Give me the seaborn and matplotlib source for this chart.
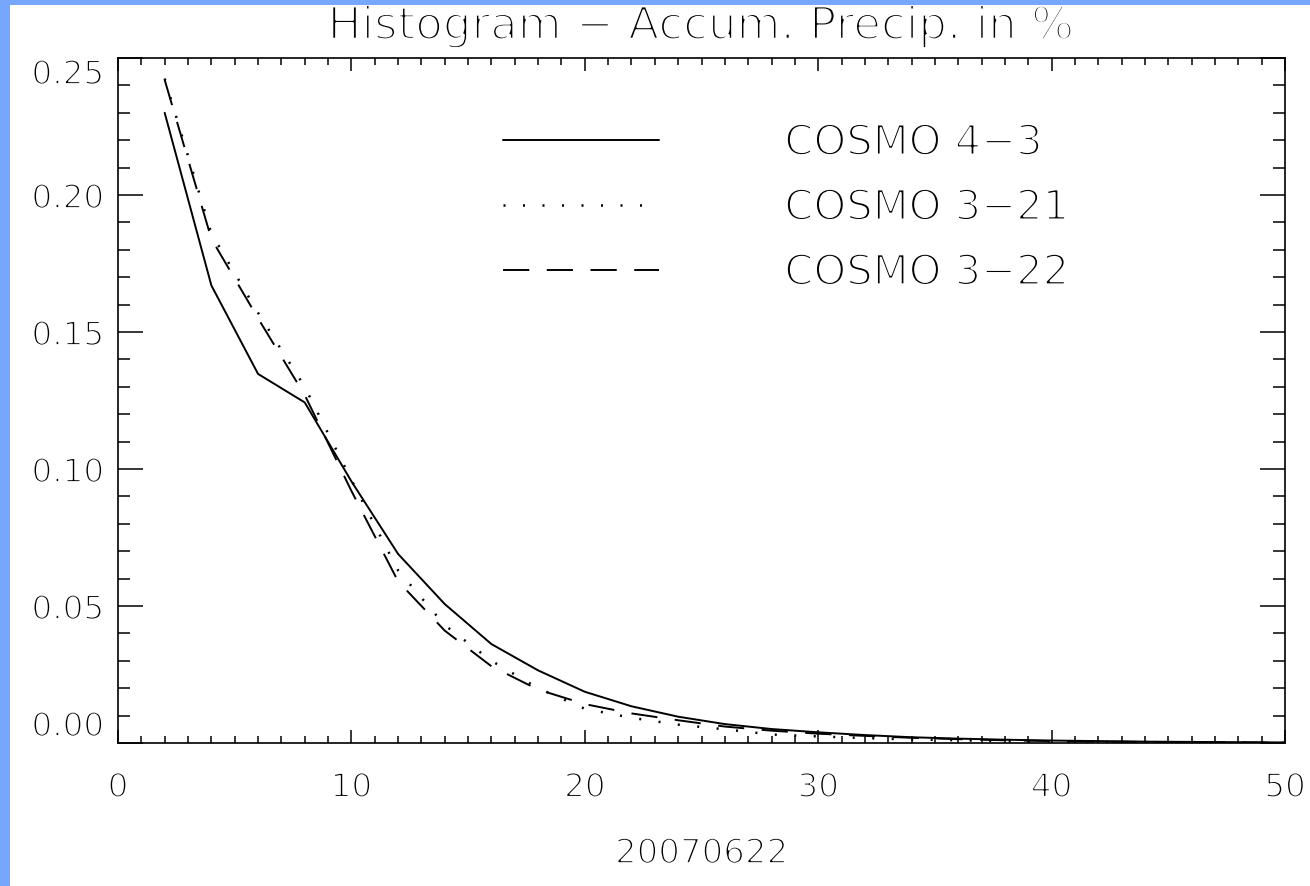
import matplotlib
matplotlib.use("Agg")
import matplotlib.pyplot as plt
import matplotlib.patheffects as pe
from matplotlib.patches import Rectangle
from matplotlib.ticker import MultipleLocator
import numpy as np
import pandas as pd
import seaborn as sns

# Precipitation bins (%) and relative frequencies for each model run
bins = [2, 4, 6, 8, 10, 12, 14, 16, 18, 20, 22, 24, 26, 28, 30,
        32, 34, 36, 38, 40, 42, 44, 46, 48, 50]
cosmo_4_3 = [0.230, 0.167, 0.1347, 0.1243, 0.0955, 0.069, 0.0507, 0.0361,
             0.0265, 0.0187, 0.0134, 0.0096, 0.0069, 0.0051, 0.0039, 0.0029,
             0.0021, 0.0016, 0.0012, 0.0009, 0.0007, 0.0005, 0.0004, 0.0003,
             0.0002]
cosmo_3_21 = [0.2425, 0.186, 0.157, 0.130, 0.096, 0.063, 0.043, 0.030,
              0.020, 0.0125, 0.0092, 0.0067, 0.0050, 0.0031, 0.0024, 0.0018,
              0.0013, 0.0010, 0.0007, 0.0005, 0.0004, 0.0003, 0.0002, 0.0001,
              0.0001]
cosmo_3_22 = [0.242, 0.184, 0.155, 0.127, 0.092, 0.059, 0.041, 0.028,
              0.0195, 0.0142, 0.0108, 0.0083, 0.0060, 0.0045, 0.0034, 0.0026,
              0.0019, 0.0014, 0.0010, 0.0007, 0.0005, 0.0004, 0.0003, 0.0002,
              0.0001]
labels = ["COSMO 4\u22123", "COSMO 3\u221221", "COSMO 3\u221222"]
xticks = [0, 10, 20, 30, 40, 50]
yticks = [0.00, 0.05, 0.10, 0.15, 0.20, 0.25]

sns.set_style("ticks")
plt.rcParams["font.family"] = ["DejaVu Sans"]
plt.rcParams["text.color"] = "black"
plt.rcParams["xtick.color"] = "black"
plt.rcParams["ytick.color"] = "black"
plt.rcParams["axes.labelcolor"] = "black"


def thin(width):
    # erode glyph outlines with a white stroke for a light, plotter-like type
    return [pe.Stroke(linewidth=width, foreground="white")]


fig = plt.figure(figsize=(13.10, 8.87), dpi=100)
ax = fig.add_axes([118 / 1310, 1 - 744 / 887, 1167 / 1310, 685 / 887])

styles = ["-", (0, (0.8, 7.0)), (0, (13.5, 9.0))]
widths = [1.4, 1.8, 1.4]
for vals, lab, ls, lw in zip([cosmo_4_3, cosmo_3_21, cosmo_3_22], labels,
                             styles, widths):
    df = pd.DataFrame({"bin": bins, "freq": vals})
    sns.lineplot(data=df, x="bin", y="freq", ax=ax, color="black",
                 linewidth=lw, linestyle=ls, label=lab)

ax.set_xlim(0, 50)
ax.set_ylim(0, 0.25)
ax.set_xticks(xticks)
ax.set_xticklabels([f"{v}" for v in xticks])
ax.set_yticks(yticks)
ax.set_yticklabels([f"{v:.2f}" for v in yticks])
ax.xaxis.set_minor_locator(MultipleLocator(1))
ax.yaxis.set_minor_locator(MultipleLocator(0.01))

ax.tick_params(axis="both", which="both", direction="in", top=True,
               right=True, width=1.1, labelsize=23.5)
ax.tick_params(axis="x", which="major", length=9.4, pad=20)
ax.tick_params(axis="x", which="minor", length=4.7)
ax.tick_params(axis="y", which="major", length=18, pad=10)
ax.tick_params(axis="y", which="minor", length=8.6)
for lbl in ax.get_yticklabels():
    if lbl.get_text() == "0.00":
        lbl.set_va("bottom")
    elif lbl.get_text() == "0.25":
        lbl.set_va("top")
for lbl in ax.get_xticklabels() + ax.get_yticklabels():
    lbl.set_path_effects(thin(1.3))

for sp in ax.spines.values():
    sp.set_visible(True)
    sp.set_linewidth(1.2)
    sp.set_color("black")

ax.set_xlabel("20070622", fontsize=24.5, labelpad=24)
ax.xaxis.label.set_path_effects(thin(1.4))
ax.set_ylabel("")

title = fig.text(701 / 1310, 1 - 40 / 887,
                 "Histogram \u2212 Accum. Precip. in %",
                 ha="center", va="baseline", fontsize=32.5)
title.set_path_effects(thin(1.9))

leg = ax.legend(loc="upper left", bbox_to_anchor=(0.33, 0.907), frameon=False,
                fontsize=30, handlelength=3.75, handletextpad=3.0,
                labelspacing=0.55, borderpad=0, borderaxespad=0)
for t in leg.get_texts():
    t.set_path_effects(thin(1.7))

# light blue frame strips along the left and top edges
fig.patches.append(Rectangle((0, 0), 10 / 1310, 1, transform=fig.transFigure,
                             facecolor="#77a6fd", edgecolor="none", zorder=10))
fig.patches.append(Rectangle((0, 1 - 6 / 887), 1, 6 / 887,
                             transform=fig.transFigure, facecolor="#77a6fd",
                             edgecolor="none", zorder=10))

fig.savefig("out.png", dpi=100)
